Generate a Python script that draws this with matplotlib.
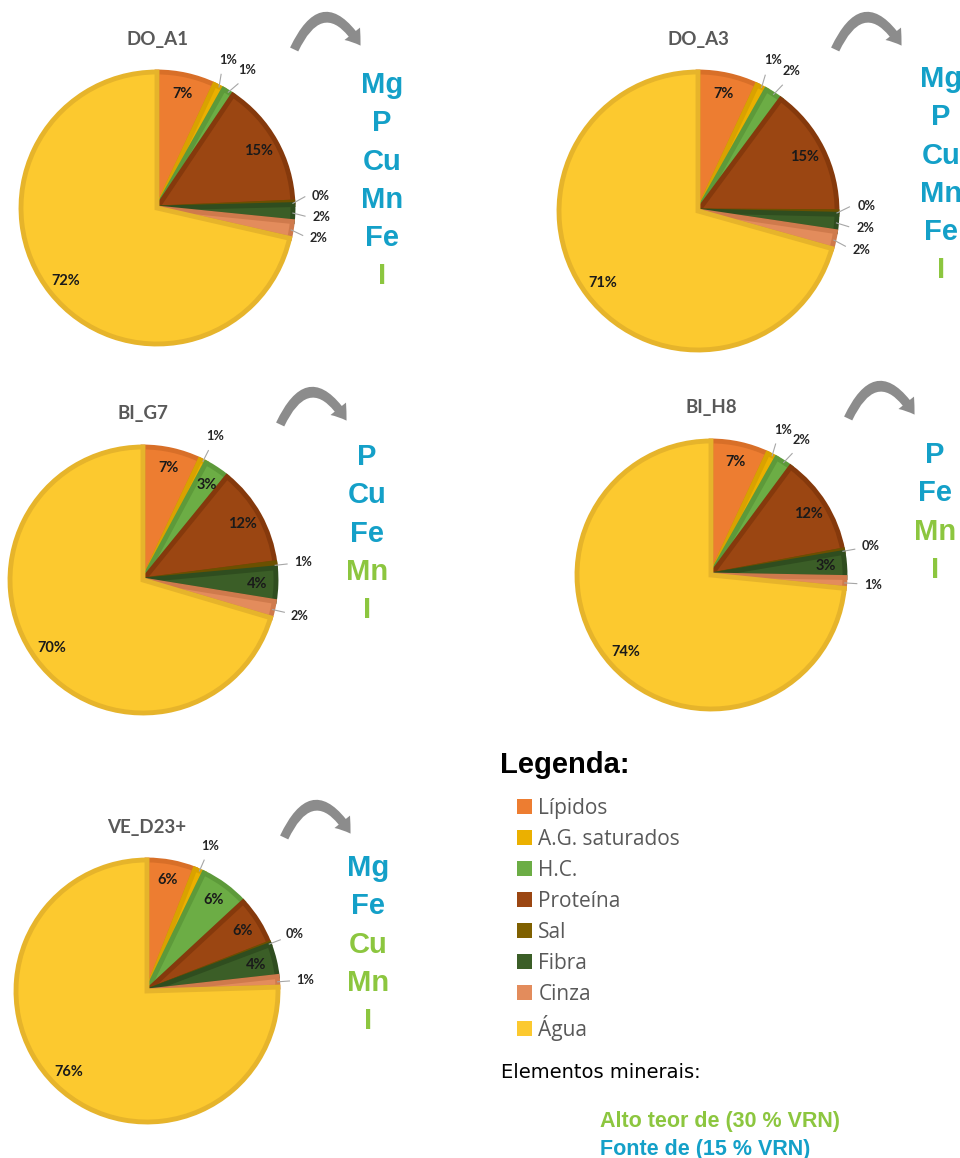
import numpy as np
import matplotlib.pyplot as plt
import matplotlib.patches as mpatches

W, H = 960, 1158

# composition categories (clockwise from 12 o'clock)
categories = ["Lípidos", "A.G. saturados", "H.C.", "Proteína", "Sal", "Fibra", "Cinza", "Água"]
fill_colors = ["#ED7D31", "#EBB000", "#6CAD45", "#9B4612", "#7F6000", "#3B5E27", "#E38C5C", "#FCC92F"]
edge_colors = ["#D86F28", "#D9A200", "#5D9A3A", "#85390C", "#6B5000", "#2F4D1F", "#CF7A4C", "#E6B42B"]

samples = ["DO_A1", "DO_A3", "BI_G7", "BI_H8", "VE_D23+"]
do_a1 = [7, 1.2, 1.3, 15, 0.3, 2, 2, 72]
do_a3 = [7, 1.2, 2, 15, 0.3, 2, 2, 71]
bi_g7 = [7, 0.8, 3, 12, 0.6, 4, 2, 70]
bi_h8 = [7, 1.2, 2, 12, 0.3, 3, 1.3, 74]
ve_d23 = [6, 1.2, 6, 6, 0.2, 4, 1.3, 76]
values = [do_a1, do_a3, bi_g7, bi_h8, ve_d23]

# mineral elements per sample: f = Fonte de (15 % VRN), a = Alto teor de (30 % VRN)
min_do_a1 = ["Mg", "P", "Cu", "Mn", "Fe", "I"]
lvl_do_a1 = ["f", "f", "f", "f", "f", "a"]
min_do_a3 = ["Mg", "P", "Cu", "Mn", "Fe", "I"]
lvl_do_a3 = ["f", "f", "f", "f", "f", "a"]
min_bi_g7 = ["P", "Cu", "Fe", "Mn", "I"]
lvl_bi_g7 = ["f", "f", "f", "a", "a"]
min_bi_h8 = ["P", "Fe", "Mn", "I"]
lvl_bi_h8 = ["f", "f", "a", "a"]
min_ve_d23 = ["Mg", "Fe", "Cu", "Mn", "I"]
lvl_ve_d23 = ["f", "f", "a", "a", "a"]
minerals = [min_do_a1, min_do_a3, min_bi_g7, min_bi_h8, min_ve_d23]
levels = [lvl_do_a1, lvl_do_a3, lvl_bi_g7, lvl_bi_h8, lvl_ve_d23]

level_colors = {"f": "#14A0C8", "a": "#8CC63F"}

# panel layout in pixels: pie centre x, y, radius, mineral column x, first mineral y
layout = [
    (157, 208, 136, 382, 85),
    (698, 211, 139, 941, 79),
    (143, 580, 133, 367, 457),
    (711, 575, 134, 935, 455),
    (147, 991, 131, 368, 868),
]

fig = plt.figure(figsize=(W / 100, H / 100), dpi=100)
fig.patch.set_facecolor("white")

# full-figure canvas in pixel coordinates for titles, arrows, mineral lists
canvas = fig.add_axes([0, 0, 1, 1])
canvas.set_xlim(0, W)
canvas.set_ylim(H, 0)
canvas.axis("off")


def spread_angles(angles, sep):
    # push neighbouring outside labels apart so they do not overlap
    a = list(angles)
    for _ in range(60):
        moved = False
        for k in range(len(a) - 1):
            gap = a[k] - a[k + 1]
            if gap < sep:
                d = (sep - gap) / 2
                a[k] += d
                a[k + 1] -= d
                moved = True
        if not moved:
            break
    return a


for name, vals, mins, lvls, (cx, cy, r, mx, my) in zip(samples, values, minerals, levels, layout):
    ax = fig.add_axes([(cx - r) / W, 1 - (cy + r) / H, 2 * r / W, 2 * r / H])
    wedges, _ = ax.pie(vals, colors=fill_colors, startangle=90, counterclock=False,
                       radius=1, wedgeprops=dict(linewidth=3.5, joinstyle="miter"))
    for w, ec in zip(wedges, edge_colors):
        w.set_edgecolor(ec)
    ax.set_xlim(-1, 1)
    ax.set_ylim(-1, 1)
    ax.set_aspect("equal")

    mids = [np.deg2rad((w.theta1 + w.theta2) / 2) for w in wedges]
    labels = [f"{v:.0f}%" for v in vals]

    inside = [i for i, v in enumerate(vals) if v >= 3]
    outside = [i for i, v in enumerate(vals) if v < 3]

    for i in inside:
        rr = 0.86
        ax.text(rr * np.cos(mids[i]), rr * np.sin(mids[i]), labels[i], ha="center", va="center",
                fontsize=10.5, fontweight="bold", family="Lato", color="#1a1a1a")

    out_ang = spread_angles([mids[i] for i in outside], np.deg2rad(7.5))
    for i, a in zip(outside, out_ang):
        lx, ly = 1.21 * np.cos(a), 1.21 * np.sin(a)
        ax.plot([np.cos(mids[i]), 1.09 * np.cos(a)], [np.sin(mids[i]), 1.09 * np.sin(a)],
                color="#A6A6A6", lw=0.8, clip_on=False)
        ax.text(lx, ly, labels[i], ha="center", va="center", fontsize=9.2, fontweight="bold",
                family="Lato", color="#262626", clip_on=False)

    # title
    ty = cy - r - 33
    canvas.text(cx, ty, name, ha="center", va="center", fontsize=13.5, fontweight="bold",
                family="Lato", color="#595959")

    # curved arrow pointing to the mineral list
    arr = mpatches.FancyArrowPatch((cx + 136, ty + 13), (cx + 205, ty + 9),
                                   connectionstyle="arc3,rad=-0.95",
                                   arrowstyle="simple,head_length=0.8,head_width=1.1,tail_width=0.5",
                                   mutation_scale=13, color="#8C8C8C", lw=0)
    canvas.add_patch(arr)

    for k, (el, lv) in enumerate(zip(mins, lvls)):
        canvas.text(mx, my + k * 38.3, el, ha="center", va="center", fontsize=21,
                    fontweight="bold", family="Liberation Sans", color=level_colors[lv])

# legend block
canvas.text(500, 765, "Legenda:", ha="left", va="center", fontsize=21, fontweight="bold",
            family="Liberation Sans", color="black")

handles = [mpatches.Patch(facecolor=c, edgecolor="none") for c in fill_colors]
fig.legend(handles, categories, loc="upper left", bbox_to_anchor=(517 / W, 1 - 798 / H),
           frameon=False, prop=dict(family="Open Sans", size=15), labelcolor="#595959",
           handlelength=0.72, handleheight=0.72, handletextpad=0.3, labelspacing=0.48,
           borderpad=0, borderaxespad=0)

canvas.text(501, 1073, "Elementos minerais:", ha="left", va="center", fontsize=14,
            family="DejaVu Sans", color="black")
canvas.text(600, 1122, "Alto teor de (30 % VRN)", ha="left", va="center", fontsize=15.5,
            fontweight="bold", family="Liberation Sans", color=level_colors["a"])
canvas.text(600, 1149, "Fonte de (15 % VRN)", ha="left", va="center", fontsize=15.5,
            fontweight="bold", family="Liberation Sans", color=level_colors["f"])

fig.savefig("out.png", dpi=100)
